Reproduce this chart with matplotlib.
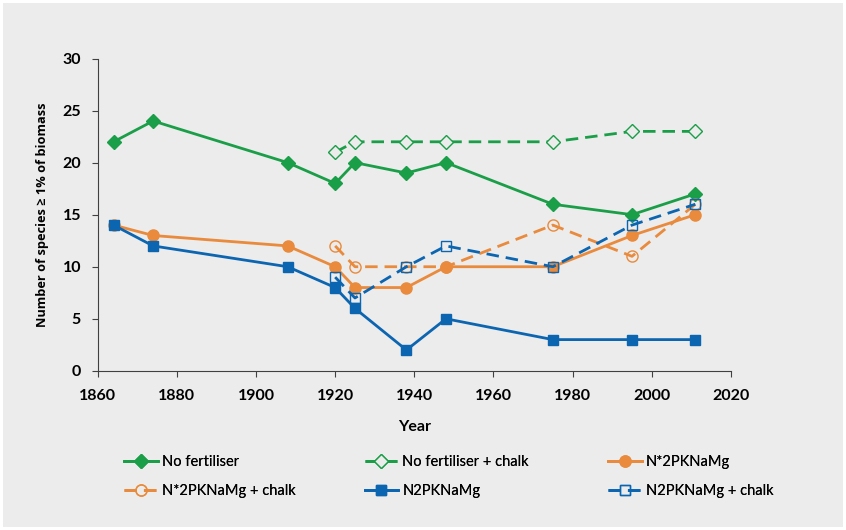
import matplotlib
matplotlib.use("Agg")
import matplotlib.pyplot as plt
from matplotlib.patches import Rectangle

# data
years_all = [1864, 1874, 1908, 1920, 1925, 1938, 1948, 1975, 1995, 2011]
years_chalk = [1920, 1925, 1938, 1948, 1975, 1995, 2011]

no_fert = [22, 24, 20, 18, 20, 19, 20, 16, 15, 17]
no_fert_chalk = [21, 22, 22, 22, 22, 23, 23]
n2_star = [14, 13, 12, 10, 8, 8, 10, 10, 13, 15]
n2_star_chalk = [12, 10, 10, 10, 14, 11, 16]
n2 = [14, 12, 10, 8, 6, 2, 5, 3, 3, 3]
n2_chalk = [9, 7, 10, 12, 10, 14, 16]

green = "#1a9e48"
orange = "#e98a3c"
blue = "#0b65b1"
bg = "#ebeceb"

plt.rcParams['font.family'] = ['Lato', 'DejaVu Sans']

fig = plt.figure(figsize=(8.46, 5.30), dpi=100)
fig.patch.set_facecolor("white")
fig.patches.append(Rectangle((0.004, 0.006), 0.992, 0.988, transform=fig.transFigure,
                             facecolor=bg, edgecolor="none", zorder=-10))

ax = fig.add_axes([0.1155, 0.3003, 0.7485, 0.5893])
ax.set_facecolor(bg)

dash = (4.5, 2.5)
h1, = ax.plot(years_all, no_fert, color=green, lw=2, marker="D", ms=7, label="No fertiliser")
h2, = ax.plot(years_chalk, no_fert_chalk, color=green, lw=2, ls=(0, dash), marker="D", ms=7,
              mfc=bg, mew=1, label="No fertiliser + chalk")
h3, = ax.plot(years_all, n2_star, color=orange, lw=2, marker="o", ms=8, label="N*2PKNaMg")
h4, = ax.plot(years_chalk, n2_star_chalk, color=orange, lw=2, ls=(0, dash), marker="o", ms=8,
              mfc="none", mew=1, label="N*2PKNaMg + chalk")
h5, = ax.plot(years_all, n2, color=blue, lw=2, marker="s", ms=7, label="N2PKNaMg")
h6, = ax.plot(years_chalk, n2_chalk, color=blue, lw=2, ls=(0, dash), marker="s", ms=7,
              mfc="none", mew=1, label="N2PKNaMg + chalk")

ax.set_xlim(1860, 2020)
ax.set_ylim(0, 30)
ax.set_xticks(range(1860, 2021, 20))
ax.set_yticks(range(0, 31, 5))
for s in ["top", "right"]:
    ax.spines[s].set_visible(False)
for s in ["left", "bottom"]:
    ax.spines[s].set_color("#404040")
    ax.spines[s].set_linewidth(0.8)
ax.tick_params(direction="out", length=4, width=0.8, color="#404040",
               labelsize=11.5, labelcolor="black")
ax.tick_params(axis="x", pad=9)
ax.tick_params(axis="y", pad=8)
for lab in ax.get_xticklabels() + ax.get_yticklabels():
    lab.set_fontweight("bold")

ax.set_xlabel("Year", fontsize=11.5, fontweight="bold", labelpad=12)
ax.set_ylabel("Number of species \u2265 1% of biomass", fontsize=9.2, fontweight="bold",
              labelpad=10, family=['Open Sans', 'DejaVu Sans'])

# legend in three separate columns, placed like the reference
cols = [([h1, h4], 0.140), ([h2, h5], 0.424), ([h3, h6], 0.712)]
for handles, x in cols:
    lg = fig.legend(handles=handles, loc="upper left", bbox_to_anchor=(x, 0.152),
                    frameon=False, fontsize=10.5, handlelength=2.3, handletextpad=0.3,
                    labelspacing=1.0, borderaxespad=0)
    fig.add_artist(lg)

fig.savefig("out.png", dpi=100, facecolor=fig.get_facecolor())
